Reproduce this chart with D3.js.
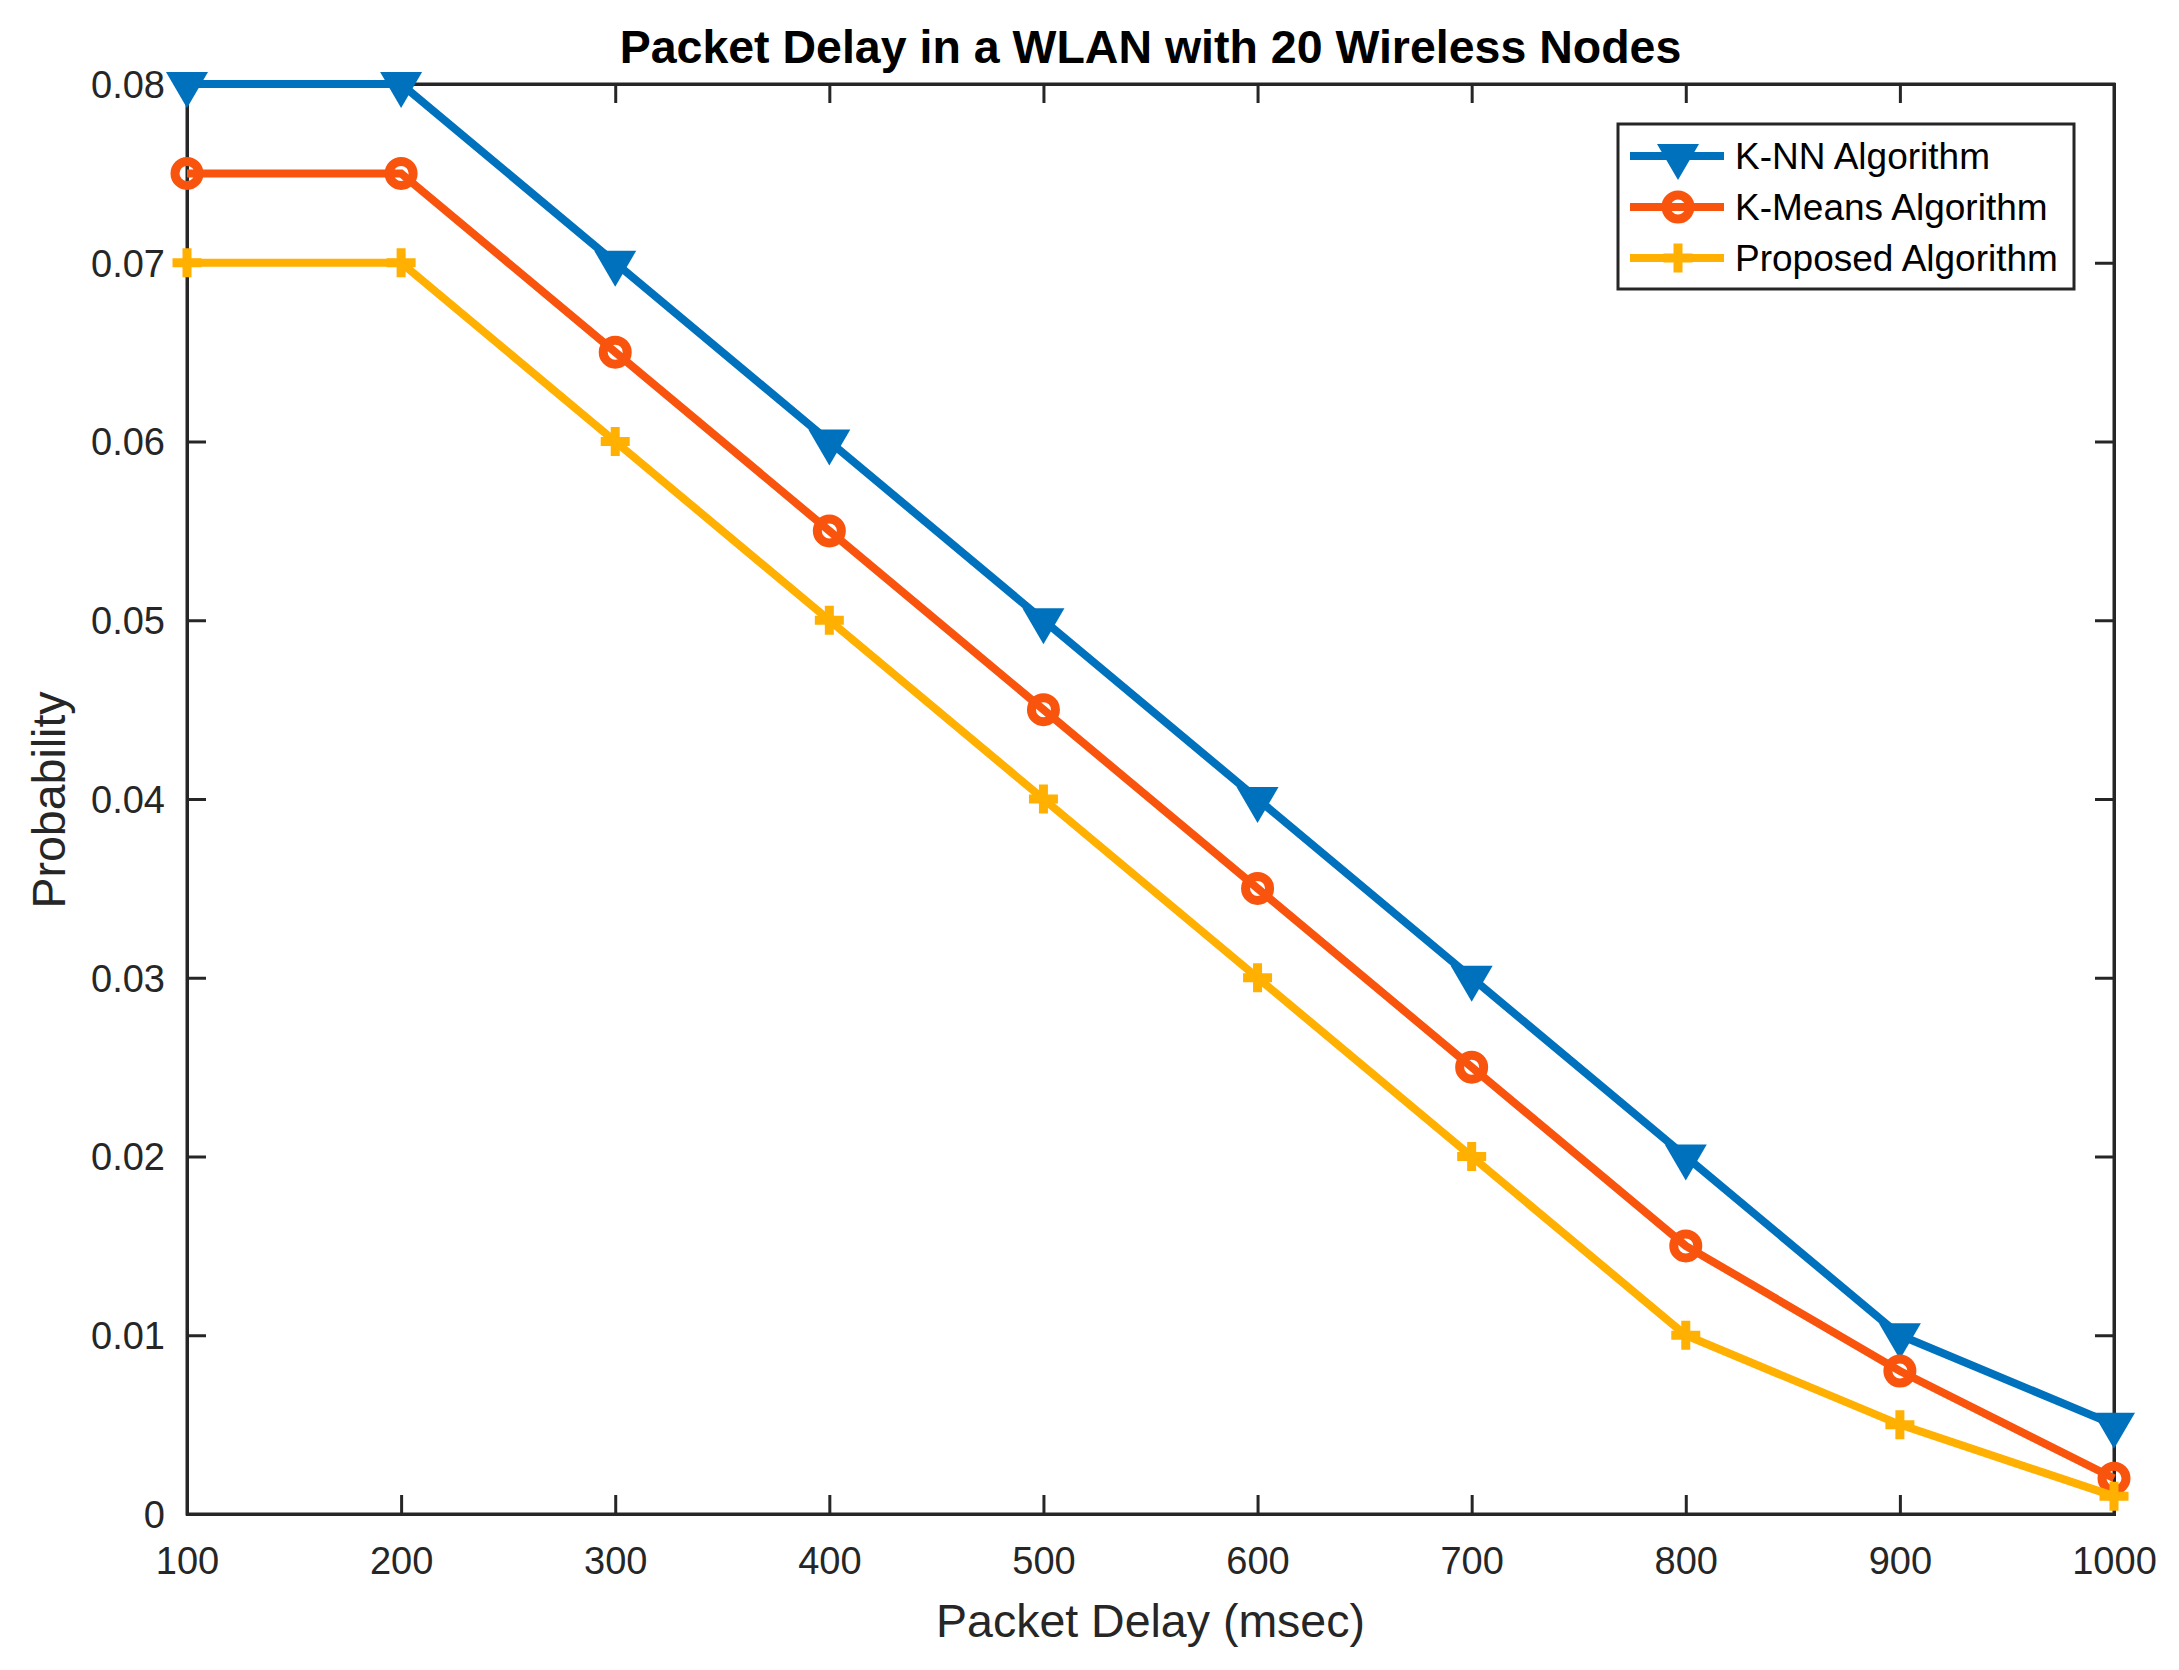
<!DOCTYPE html>
<html><head><meta charset="utf-8">
<script src="https://cdn.jsdelivr.net/npm/d3@7"></script>
<style>
html,body{margin:0;padding:0;background:#fff;}
svg{display:block;}
text{font-family:"Liberation Sans",Arial,Helvetica,sans-serif;}
</style></head>
<body>
<svg id="chart" width="2179" height="1670"></svg>
<script>
const delays = [100,200,300,400,500,600,700,800,900,1000];
const knn = [0.08,0.08,0.07,0.06,0.05,0.04,0.03,0.02,0.01,0.005];
const kmeans = [0.075,0.075,0.065,0.055,0.045,0.035,0.025,0.015,0.008,0.002];
const proposed = [0.07,0.07,0.06,0.05,0.04,0.03,0.02,0.01,0.005,0.001];
const seriesNames = ["K-NN Algorithm","K-Means Algorithm","Proposed Algorithm"];
const xTicks = [100,200,300,400,500,600,700,800,900,1000];
const yTicks = [0,0.01,0.02,0.03,0.04,0.05,0.06,0.07,0.08];
const titleText = "Packet Delay in a WLAN with 20 Wireless Nodes";
const xLabel = "Packet Delay (msec)";
const yLabel = "Probability";

const colors = ["#0072BD","#F9540E","#FFB000"];
const markers = ["tri","circle","plus"];
const seriesData = [knn,kmeans,proposed];

const L=187,R=2114,T=84,B=1514;
const svg = d3.select("#chart");
const x = d3.scaleLinear().domain([100,1000]).range([L,R]);
const y = d3.scaleLinear().domain([0,0.08]).range([B,T]);
const axisColor="#262626";
const tickLen=19;

const gx = svg.append("g").attr("transform",`translate(0,${B})`)
  .call(d3.axisBottom(x).tickValues(xTicks).tickSize(-tickLen).tickPadding(40).tickFormat(d3.format("d")));
const gxTop = svg.append("g").attr("transform",`translate(0,${T})`)
  .call(d3.axisTop(x).tickValues(xTicks).tickSize(-tickLen).tickFormat(""));
const gy = svg.append("g").attr("transform",`translate(${L},0)`)
  .call(d3.axisLeft(y).tickValues(yTicks).tickSize(-tickLen).tickPadding(22).tickFormat(d=>d===0?"0":d3.format(".2f")(d)));
const gyR = svg.append("g").attr("transform",`translate(${R},0)`)
  .call(d3.axisRight(y).tickValues(yTicks).tickSize(-tickLen).tickFormat(""));
[gx,gxTop,gy,gyR].forEach(g=>{
  g.select(".domain").attr("stroke",axisColor).attr("stroke-width",3);
  g.selectAll(".tick line").attr("stroke",axisColor).attr("stroke-width",3);
  g.selectAll(".tick text").attr("fill",axisColor).attr("font-size",38).attr("font-family",'"Liberation Sans",Arial,sans-serif');
});
gx.selectAll(".tick text").attr("dy",0).attr("y",60);
gy.selectAll(".tick text").attr("dy","0.35em");
svg.append("rect").attr("x",L).attr("y",T).attr("width",R-L).attr("height",B-T)
  .attr("fill","none").attr("stroke",axisColor).attr("stroke-width",3);

function drawMarker(g,type,cx,cy,color){
  if(type==="tri"){
    g.append("path").attr("d",`M${cx-21},${cy-12}L${cx+21},${cy-12}L${cx},${cy+24}Z`)
      .attr("fill",color);
  } else if(type==="circle"){
    g.append("circle").attr("cx",cx).attr("cy",cy).attr("r",12)
      .attr("fill","none").attr("stroke",color).attr("stroke-width",9);
  } else {
    g.append("path").attr("d",`M${cx-14.5},${cy}L${cx+14.5},${cy}M${cx},${cy-14.5}L${cx},${cy+14.5}`)
      .attr("stroke",color).attr("stroke-width",9).attr("fill","none");
  }
}

const line = d3.line().x((d,i)=>x(delays[i])).y(d=>y(d));
seriesData.forEach((s,k)=>{
  const g = svg.append("g");
  g.append("path").datum(s).attr("d",line).attr("fill","none")
    .attr("stroke",colors[k]).attr("stroke-width",8).attr("stroke-linejoin","miter");
  s.forEach((v,i)=>drawMarker(g,markers[k],x(delays[i]),y(v),colors[k]));
});

svg.append("text").attr("x",(L+R)/2).attr("y",63).attr("text-anchor","middle")
  .attr("font-size",46.5).attr("font-weight","bold").attr("fill","#000").text(titleText);
svg.append("text").attr("x",(L+R)/2).attr("y",1637).attr("text-anchor","middle")
  .attr("font-size",46.5).attr("fill",axisColor).text(xLabel);
svg.append("text").attr("transform",`translate(65,800) rotate(-90)`).attr("text-anchor","middle")
  .attr("font-size",46.5).attr("fill",axisColor).text(yLabel);

const lg = svg.append("g");
lg.append("rect").attr("x",1618).attr("y",124).attr("width",456).attr("height",165)
  .attr("fill","#fff").attr("stroke",axisColor).attr("stroke-width",3);
const rowY=[156,207,258];
seriesNames.forEach((n,k)=>{
  lg.append("line").attr("x1",1630).attr("x2",1724).attr("y1",rowY[k]).attr("y2",rowY[k])
    .attr("stroke",colors[k]).attr("stroke-width",8);
  drawMarker(lg,markers[k],1678,rowY[k],colors[k]);
  lg.append("text").attr("x",1735).attr("y",rowY[k]).attr("dy","0.35em")
    .attr("font-size",37).attr("fill","#000").text(n);
});
</script>
</body></html>
